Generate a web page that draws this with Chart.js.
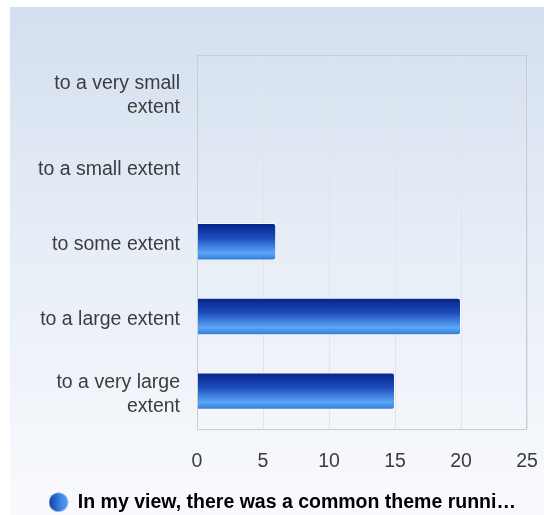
<!DOCTYPE html>
<html>
<head>
<meta charset="utf-8">
<script src="https://cdn.jsdelivr.net/npm/chart.js@4.4.1/dist/chart.umd.min.js"></script>
<style>
  html, body { margin: 0; padding: 0; background: #fff; overflow: hidden; }
  #wrap {
    position: absolute; left: 10px; top: 7px; width: 534px; height: 508px;
    background: linear-gradient(to bottom, #d3dfef 0%, #e6edf6 45%, #f9fafd 100%);
  }
</style>
</head>
<body>
<div id="wrap"><canvas id="answerChart"></canvas></div>
<script>
var categories = [
    ["to a very small", "extent"],
    "to a small extent",
    "to some extent",
    "to a large extent",
    ["to a very large", "extent"]
];
var counts = [0, 0, 6, 20, 15];
var seriesName = "In my view, there was a common theme runni\u2026";
var xTicks = [0, 5, 10, 15, 20, 25];

var fontFamily = "'Liberation Sans', Arial, sans-serif";
var barShare = 0.5;

// vertical gradient per bar, like the original glossy bars
function barFill(context) {
    var chart = context.chart;
    var y = chart.scales.y;
    if (!chart.chartArea || !y) return '#2f6fd0';
    var center = y.getPixelForValue(context.dataIndex);
    var half = y.height / categories.length * barShare / 2;
    var g = chart.ctx.createLinearGradient(0, center - half, 0, center + half);
    g.addColorStop(0, '#052286');
    g.addColorStop(0.4, '#1d4cbd');
    g.addColorStop(0.8, '#5aa6f7');
    g.addColorStop(1, '#3176d6');
    return g;
}

// little round marker for the legend, shaded left to right
function legendDot() {
    var c = document.createElement('canvas');
    c.width = 20; c.height = 20;
    var x = c.getContext('2d');
    var g = x.createLinearGradient(0, 0, 20, 0);
    g.addColorStop(0, '#0d3a9e');
    g.addColorStop(0.6, '#3f86e8');
    g.addColorStop(1, '#5a9ef0');
    x.fillStyle = g;
    x.beginPath();
    x.arc(10, 10, 9.5, 0, Math.PI * 2);
    x.fill();
    return c;
}
var dot = legendDot();

var frame = {
    id: 'frame',
    afterDatasetsDraw: function (chart) {
        var a = chart.chartArea, c = chart.ctx;
        c.save();
        c.strokeStyle = '#c9ced6';
        c.lineWidth = 1;
        c.strokeRect(Math.round(a.left) + 0.5, Math.round(a.top) + 0.5,
            Math.round(a.right - a.left) - 1, Math.round(a.bottom - a.top));
        c.restore();
    }
};

var ctx = document.getElementById('answerChart').getContext('2d');
var chart = new Chart(ctx, {
    type: 'bar',
    data: {
        labels: categories,
        datasets: [{
            label: seriesName,
            data: counts,
            backgroundColor: barFill,
            borderColor: 'rgba(255,255,255,0.85)',
            borderWidth: 1,
            borderRadius: 3,
            borderSkipped: 'start',
            barPercentage: barShare,
            categoryPercentage: 1
        }]
    },
    options: {
        indexAxis: 'y',
        responsive: true,
        maintainAspectRatio: false,
        animation: false,
        layout: { padding: { top: 48, left: 28, right: 17, bottom: -7 } },
        scales: {
            x: {
                min: 0,
                max: 25,
                afterBuildTicks: function (axis) {
                    axis.ticks = xTicks.map(function (v) { return { value: v }; });
                },
                afterFit: function (axis) {
                    axis.height = 45;
                    axis.paddingLeft = 0;
                    axis.paddingRight = 0;
                },
                grid: { color: '#e1e4ea', drawTicks: false },
                border: { display: false },
                ticks: {
                    padding: 21,
                    color: '#3c3c3c',
                    font: { family: fontFamily, size: 19.5 }
                }
            },
            y: {
                afterFit: function (axis) {
                    axis.width = 159;
                },
                grid: { display: false, drawTicks: false },
                border: { display: true, color: '#bcc0c8' },
                ticks: {
                    padding: 17,
                    labelOffset: 3,
                    color: '#3c3c3c',
                    font: { family: fontFamily, size: 19.5, lineHeight: 1.23 }
                }
            }
        },
        plugins: {
            tooltip: { enabled: false },
            legend: {
                position: 'bottom',
                labels: {
                    usePointStyle: true,
                    boxWidth: 19,
                    boxHeight: 19,
                    padding: 19,
                    color: '#333333',
                    font: { family: fontFamily, size: 19.5, weight: 'bold' },
                    generateLabels: function (c) {
                        return [{
                            text: seriesName,
                            fillStyle: '#2d6ad2',
                            strokeStyle: '#2d6ad2',
                            lineWidth: 0,
                            pointStyle: dot,
                            datasetIndex: 0
                        }];
                    }
                }
            }
        }
    },
    plugins: [frame]
});
</script>
</body>
</html>
